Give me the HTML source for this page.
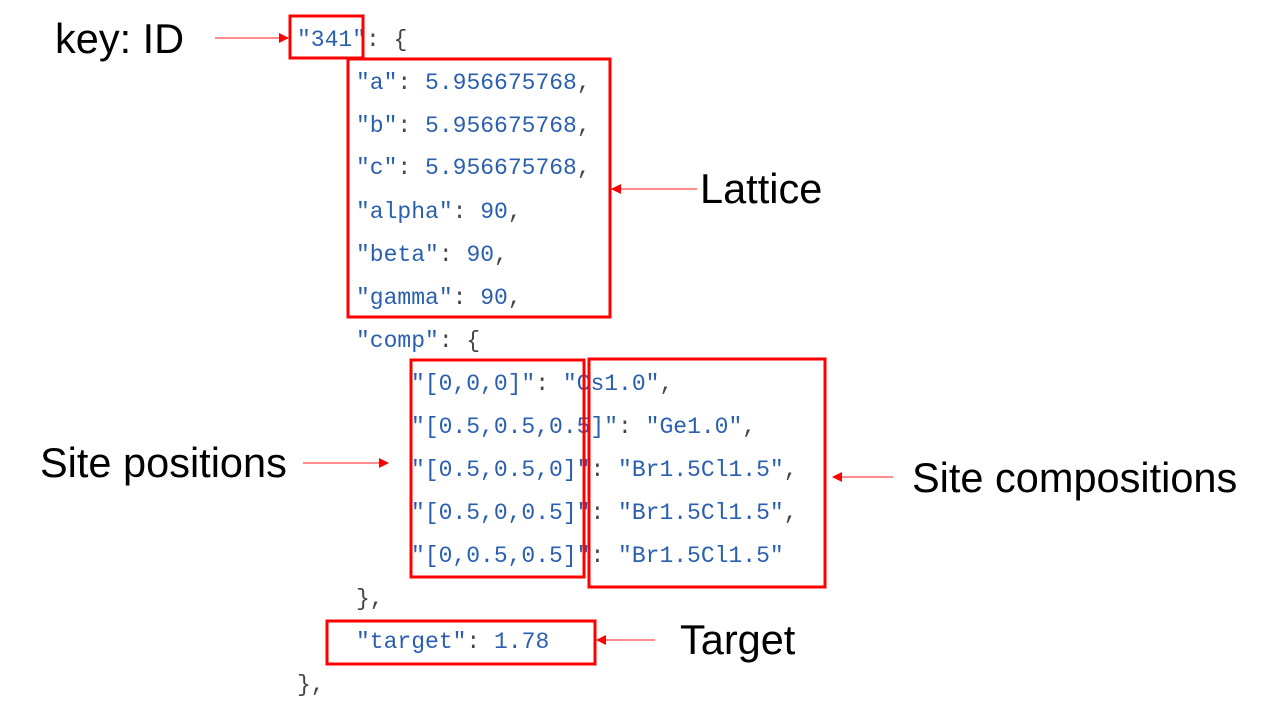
<!DOCTYPE html>
<html><head><meta charset="utf-8"><style>
html,body{margin:0;padding:0;background:#fff;}
svg{display:block;}
.c{font-family:"Liberation Mono",monospace;font-size:23px;}
.k{fill:#2a5fb0;}
.p{fill:#444;}
.l{font-family:"Liberation Sans",Arial,sans-serif;font-size:41.5px;fill:#000;}
</style></head><body>
<svg width="1261" height="704" viewBox="0 0 1261 704" xmlns="http://www.w3.org/2000/svg">
<defs><marker id="a" markerWidth="10" markerHeight="10" refX="9" refY="5" orient="auto" markerUnits="userSpaceOnUse"><path d="M0,0 L10,5 L0,10 z" fill="#f00"/></marker></defs>
<g class="c">
<text x="297" y="46"><tspan class="k">"341"</tspan><tspan class="p">: {</tspan></text>
<text x="356" y="89"><tspan class="k">"a"</tspan><tspan class="p">: </tspan><tspan class="k">5.956675768</tspan><tspan class="p">,</tspan></text>
<text x="356" y="132"><tspan class="k">"b"</tspan><tspan class="p">: </tspan><tspan class="k">5.956675768</tspan><tspan class="p">,</tspan></text>
<text x="356" y="174"><tspan class="k">"c"</tspan><tspan class="p">: </tspan><tspan class="k">5.956675768</tspan><tspan class="p">,</tspan></text>
<text x="356" y="218"><tspan class="k">"alpha"</tspan><tspan class="p">: </tspan><tspan class="k">90</tspan><tspan class="p">,</tspan></text>
<text x="356" y="261"><tspan class="k">"beta"</tspan><tspan class="p">: </tspan><tspan class="k">90</tspan><tspan class="p">,</tspan></text>
<text x="356" y="304"><tspan class="k">"gamma"</tspan><tspan class="p">: </tspan><tspan class="k">90</tspan><tspan class="p">,</tspan></text>
<text x="356" y="347"><tspan class="k">"comp"</tspan><tspan class="p">: {</tspan></text>
<text x="411" y="390"><tspan class="k">"[0,0,0]"</tspan><tspan class="p">: </tspan><tspan class="k">"Cs1.0"</tspan><tspan class="p">,</tspan></text>
<text x="411" y="433"><tspan class="k">"[0.5,0.5,0.5]"</tspan><tspan class="p">: </tspan><tspan class="k">"Ge1.0"</tspan><tspan class="p">,</tspan></text>
<text x="411" y="476"><tspan class="k">"[0.5,0.5,0]"</tspan><tspan class="p">: </tspan><tspan class="k">"Br1.5Cl1.5"</tspan><tspan class="p">,</tspan></text>
<text x="411" y="519"><tspan class="k">"[0.5,0,0.5]"</tspan><tspan class="p">: </tspan><tspan class="k">"Br1.5Cl1.5"</tspan><tspan class="p">,</tspan></text>
<text x="411" y="562"><tspan class="k">"[0,0.5,0.5]"</tspan><tspan class="p">: </tspan><tspan class="k">"Br1.5Cl1.5"</tspan></text>
<text x="356" y="605" class="p">},</text>
<text x="356" y="648"><tspan class="k">"target"</tspan><tspan class="p">: </tspan><tspan class="k">1.78</tspan></text>
<text x="297" y="691" class="p">},</text>
</g>
<g fill="none" stroke="#f00" stroke-width="3">
<rect x="290" y="16" width="73" height="42"/>
<rect x="348" y="59" width="262" height="258"/>
<rect x="411" y="360" width="173" height="217"/>
<rect x="589" y="359" width="236" height="228"/>
<rect x="327" y="621" width="268" height="43"/>
</g>
<g stroke="#f66" stroke-width="1.5" marker-end="url(#a)">
<line x1="215" y1="38" x2="288" y2="38"/>
<line x1="697" y1="189" x2="612" y2="189"/>
<line x1="303" y1="463" x2="388" y2="463"/>
<line x1="893" y1="477" x2="833" y2="477"/>
<line x1="655" y1="640" x2="597" y2="640"/>
</g>
<text class="l" x="55" y="53">key: ID</text>
<text class="l" x="700" y="203">Lattice</text>
<text class="l" x="40" y="477">Site positions</text>
<text class="l" x="912" y="492">Site compositions</text>
<text class="l" x="680" y="654">Target</text>
</svg>
</body></html>
